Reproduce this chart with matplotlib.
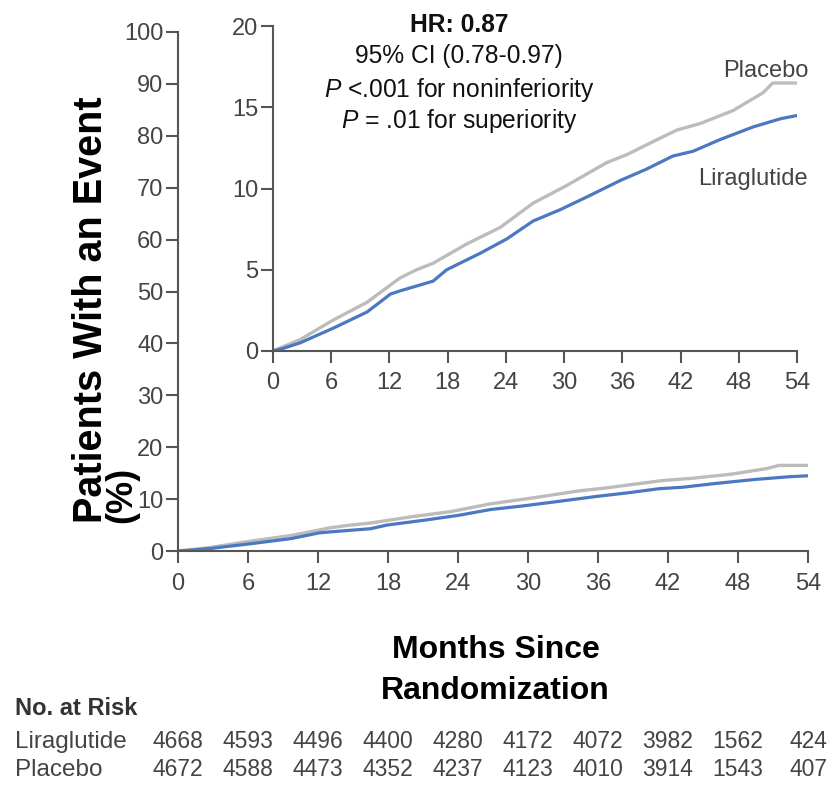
import matplotlib.pyplot as plt
import matplotlib.transforms as mtransforms

plt.rcParams['font.family'] = ['Liberation Sans', 'DejaVu Sans']
plt.rcParams['mathtext.fontset'] = 'custom'
plt.rcParams['mathtext.rm'] = 'Liberation Sans'
plt.rcParams['mathtext.it'] = 'Liberation Sans:italic'

# cumulative incidence of the primary outcome (%) by month
placebo_months = [0, 1, 2.8, 6.2, 9.7, 12.1, 13.1, 14.8, 16.5, 20, 23.4, 26.8,
                  30.3, 34.4, 36.5, 39.2, 41.6, 44, 47.4, 50.5, 51.5, 54]
placebo_pct = [0, 0.25, 0.7, 1.9, 3.0, 4.06, 4.5, 5.0, 5.4, 6.6, 7.6, 9.1,
               10.2, 11.6, 12.1, 12.9, 13.6, 14.0, 14.8, 15.9, 16.5, 16.5]
lira_months = [0, 1, 2.8, 6.2, 9.7, 12.1, 13.1, 16.5, 17.9, 21.3, 24.1, 26.8,
               29.6, 32.4, 35.8, 38.5, 41.2, 43.3, 46, 49.5, 52.3, 54]
lira_pct = [0, 0.15, 0.5, 1.4, 2.4, 3.5, 3.7, 4.3, 5.0, 6.0, 6.9, 8.0,
            8.7, 9.5, 10.5, 11.2, 12.0, 12.3, 13.0, 13.8, 14.3, 14.5]

month_ticks = [0, 6, 12, 18, 24, 30, 36, 42, 48, 54]
risk_lira = [4668, 4593, 4496, 4400, 4280, 4172, 4072, 3982, 1562, 424]
risk_placebo = [4672, 4588, 4473, 4352, 4237, 4123, 4010, 3914, 1543, 407]

blue = '#4a78c2'
grey = '#bcbcbc'
axis_col = '#555555'
label_col = '#444444'


def style_axis(ax):
    for s in ['top', 'right']:
        ax.spines[s].set_visible(False)
    for s in ['left', 'bottom']:
        ax.spines[s].set_color(axis_col)
        ax.spines[s].set_linewidth(1.5)
    ax.tick_params(colors=axis_col, labelcolor=label_col, width=1.5,
                   length=8.5, labelsize=17)
    ax.tick_params(axis='x', pad=7)
    ax.tick_params(axis='y', pad=2)


fig = plt.figure(figsize=(8.3, 7.94), dpi=100)

# full-scale plot
ax = fig.add_axes([0.2145, 0.306, 0.759, 0.6537])
ax.plot(placebo_months, placebo_pct, color=grey, lw=2.4)
ax.plot(lira_months, lira_pct, color=blue, lw=2.3)
ax.set_xlim(0, 54)
ax.set_ylim(0, 100)
ax.set_xticks(month_ticks)
ax.set_yticks(range(0, 101, 10))
style_axis(ax)

# zoomed inset
ins = fig.add_axes([0.3289, 0.558, 0.6313, 0.409])
ins.plot(placebo_months, placebo_pct, color=grey, lw=2.4)
ins.plot(lira_months, lira_pct, color=blue, lw=2.3)
ins.set_xlim(0, 54)
ins.set_ylim(0, 20)
ins.set_xticks(month_ticks)
ins.set_yticks([0, 5, 10, 15, 20])
style_axis(ins)
ins.text(0.9735, 0.903, 'Placebo', transform=fig.transFigure, ha='right',
         va='baseline', fontsize=17, color=label_col)
ins.text(0.9735, 0.767, 'Liraglutide', transform=fig.transFigure, ha='right',
         va='baseline', fontsize=17, color=label_col)

# hazard ratio box
stats = [('HR: 0.87', 'bold', 0.9597),
         ('95% CI (0.78-0.97)', 'normal', 0.9207),
         (r'$\mathit{P}$ <.001 for noninferiority', 'normal', 0.8778),
         (r'$\mathit{P}$ = .01 for superiority', 'normal', 0.8388)]
for txt, weight, y in stats:
    fig.text(0.553, y, txt, ha='center', va='baseline', fontsize=17.7,
             fontweight=weight, color='#111111')

# axis titles
fig.text(0.1229, 0.3413, 'Patients With an Event', rotation=90,
         rotation_mode='anchor', ha='left', va='baseline',
         fontsize=28.5, fontweight='bold')
fig.text(0.1578, 0.3413, '(%)', rotation=90, rotation_mode='anchor',
         ha='left', va='baseline', fontsize=26, fontweight='bold')
fig.text(0.597, 0.2, 'Months Since\nRandomization', ha='center', va='top',
         fontsize=23, fontweight='bold', linespacing=1.45)

# number at risk table
trans = mtransforms.blended_transform_factory(ax.transData, fig.transFigure)
fig.text(0.018, 0.1, 'No. at Risk', ha='left', va='baseline', fontsize=17,
         fontweight='bold', color='#333333')
fig.text(0.018, 0.058, 'Liraglutide', ha='left', va='baseline', fontsize=17.5,
         color=label_col)
fig.text(0.018, 0.0227, 'Placebo', ha='left', va='baseline', fontsize=17.5,
         color=label_col)
for m, a, b in zip(month_ticks, risk_lira, risk_placebo):
    ax.text(m, 0.058, str(a), transform=trans, ha='center', va='baseline',
            fontsize=16.5, color=label_col)
    ax.text(m, 0.0227, str(b), transform=trans, ha='center', va='baseline',
            fontsize=16.5, color=label_col)

fig.savefig('out.png', dpi=100)
